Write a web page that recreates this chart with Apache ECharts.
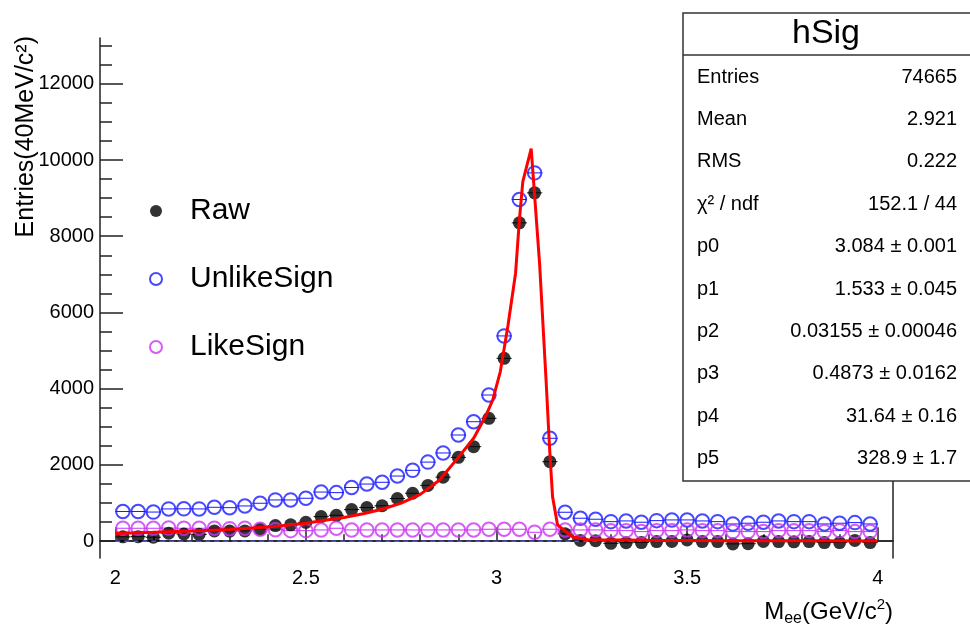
<!DOCTYPE html>
<html>
<head>
<meta charset="utf-8">
<script src="https://cdn.jsdelivr.net/npm/echarts@6/dist/echarts.min.js"></script>
<style>
  html, body { margin: 0; padding: 0; background: #fff; }
  #main { width: 970px; height: 630px; }
</style>
</head>
<body>
<div id="main"></div>
<script>
// bin centres (40 MeV bins)
const massX = [2.02, 2.06, 2.10, 2.14, 2.18, 2.22, 2.26, 2.30, 2.34, 2.38,
  2.42, 2.46, 2.50, 2.54, 2.58, 2.62, 2.66, 2.70, 2.74, 2.78,
  2.82, 2.86, 2.90, 2.94, 2.98, 3.02, 3.06, 3.10, 3.14, 3.18,
  3.22, 3.26, 3.30, 3.34, 3.38, 3.42, 3.46, 3.50, 3.54, 3.58,
  3.62, 3.66, 3.70, 3.74, 3.78, 3.82, 3.86, 3.90, 3.94, 3.98];
const rawY = [115, 120, 105, 210, 190, 180, 270, 265, 270, 314,
  410, 430, 495, 646, 680, 830, 885, 930, 1120, 1258,
  1465, 1680, 2200, 2480, 3224, 4797, 8351, 9138, 2087, 195,
  20, 15, -55, -40, -35, -10, -5, 35, -10, -10,
  -70, -65, -5, -10, -15, -10, -35, -35, 20, -35];
const unlikeY = [780, 780, 765, 847, 850, 847, 890, 880, 925, 996,
  1083, 1083, 1127, 1290, 1275, 1410, 1500, 1546, 1710, 1860,
  2075, 2315, 2786, 3135, 3835, 5385, 8964, 9662, 2700, 760,
  603, 577, 514, 532, 498, 540, 558, 558, 532, 514,
  453, 472, 498, 532, 514, 514, 453, 472, 488, 453];
const likeY = [340, 340, 340, 345, 340, 340, 340, 330, 340, 314,
  300, 278, 278, 296, 340, 296, 296, 296, 296, 296,
  296, 296, 296, 296, 314, 314, 314, 235, 314, 296,
  296, 296, 278, 278, 252, 278, 278, 296, 278, 278,
  252, 252, 252, 278, 278, 278, 252, 278, 252, 252];
// fit curve
const fitX = [2.00, 2.10, 2.20, 2.30, 2.40, 2.50, 2.55, 2.60, 2.65, 2.70,
  2.75, 2.80, 2.85, 2.90, 2.94, 2.97, 2.99, 3.01, 3.03, 3.05,
  3.06, 3.069, 3.091, 3.113, 3.130, 3.139, 3.147, 3.160, 3.182, 3.20,
  3.24, 3.40, 3.60, 3.80, 4.00];
const fitY = [205, 235, 270, 310, 370, 470, 550, 620, 720, 840,
  1000, 1230, 1600, 2200, 2700, 3250, 3700, 4450, 5650, 7030,
  8420, 9430, 10300, 7290, 4230, 2480, 1170, 430, 250, 110,
  40, 25, 15, 10, 5];
const zeroX = [2, 4];
const zeroY = [0, 0];
const halfBin = 0.02;

const xMajor = [2, 2.5, 3, 3.5, 4];
const xMinor = [2.1, 2.2, 2.3, 2.4, 2.6, 2.7, 2.8, 2.9, 3.1, 3.2, 3.3, 3.4, 3.6, 3.7, 3.8, 3.9];
const yMajor = [0, 2000, 4000, 6000, 8000, 10000, 12000];
const yMinor = [500, 1000, 1500, 2500, 3000, 3500, 4500, 5000, 5500, 6500, 7000, 7500,
  8500, 9000, 9500, 10500, 11000, 11500, 12500, 13000];

const statNames = ['Entries', 'Mean', 'RMS', 'χ² / ndf', 'p0', 'p1', 'p2', 'p3', 'p4', 'p5'];
const statValues = ['74665', '2.921', '0.222', '152.1 / 44', '3.084 ± 0.001', '1.533 ± 0.045',
  '0.03155 ± 0.00046', '0.4873 ± 0.0162', '31.64 ± 0.16', '328.9 ± 1.7'];

const FONT = 'Liberation Sans, Arial, sans-serif';
const BLUE = '#1a1aff';
const MAGENTA = '#cc33f2';

function pairs(xs, ys) {
  return xs.map((x, i) => [x, ys[i]]);
}

function errBars(ys, color) {
  return {
    type: 'custom',
    silent: true,
    data: pairs(massX, ys),
    renderItem: function (params, api) {
      const a = api.coord([api.value(0) - halfBin, api.value(1)]);
      const b = api.coord([api.value(0) + halfBin, api.value(1)]);
      return {
        type: 'line',
        shape: { x1: a[0], y1: a[1], x2: b[0], y2: b[1] },
        style: { stroke: color, lineWidth: 1 }
      };
    }
  };
}

function xAxisCfg(extra) {
  return Object.assign({
    type: 'value', min: 1.96, max: 4.04, position: 'bottom',
    axisLine: { show: false },
    axisTick: { show: false },
    axisLabel: { show: false },
    splitLine: { show: false }
  }, extra);
}
function yAxisCfg(extra) {
  return Object.assign({
    type: 'value', min: -440, max: 13200, position: 'left',
    axisLine: { show: false },
    axisTick: { show: false },
    axisLabel: { show: false },
    splitLine: { show: false }
  }, extra);
}

const chart = echarts.init(document.getElementById('main'));

const statRows = [];
statNames.forEach((n, i) => {
  const y = 77 + i * 42.4;
  statRows.push({ type: 'text', x: 697, y: y, z: 101,
    style: { text: n, font: '20px ' + FONT, fill: '#000', textVerticalAlign: 'middle' } });
  statRows.push({ type: 'text', x: 957, y: y, z: 101,
    style: { text: statValues[i], font: '20px ' + FONT, fill: '#000', textAlign: 'right', textVerticalAlign: 'middle' } });
});

chart.setOption({
  animation: false,
  backgroundColor: '#fff',
  grid: { left: 100, right: 77, top: 38, bottom: 72 },
  legend: {
    data: ['Raw', 'UnlikeSign', 'LikeSign'],
    orient: 'vertical',
    left: 144, top: 191,
    itemWidth: 24, itemHeight: 12,
    itemGap: 38,
    textStyle: { fontSize: 30, fontFamily: FONT, color: '#000', padding: [0, 0, 0, 17] }
  },
  xAxis: [
    xAxisCfg({
      axisLine: { show: true, lineStyle: { color: '#222', width: 1.5 } },
      axisTick: { show: true, inside: true, length: 14, customValues: xMajor, lineStyle: { color: '#222', width: 1.5 } },
      axisLabel: { show: true, customValues: xMajor, fontSize: 20, fontFamily: FONT, color: '#000', margin: 10,
        formatter: v => String(v) }
    }),
    xAxisCfg({
      axisTick: { show: true, inside: true, length: 7, customValues: xMinor, lineStyle: { color: '#222', width: 1.5 } }
    }),
    xAxisCfg({
      position: 'top',
      axisLine: { show: true, lineStyle: { color: '#222', width: 1.5 } }
    })
  ],
  yAxis: [
    yAxisCfg({
      axisLine: { show: true, lineStyle: { color: '#222', width: 1.5 } },
      axisTick: { show: true, inside: true, length: 23, customValues: yMajor, lineStyle: { color: '#222', width: 1.5 } },
      axisLabel: { show: true, customValues: yMajor, fontSize: 20, fontFamily: FONT, color: '#000', margin: 6,
        formatter: v => String(v) }
    }),
    yAxisCfg({
      axisTick: { show: true, inside: true, length: 12, customValues: yMinor, lineStyle: { color: '#222', width: 1.5 } }
    }),
    yAxisCfg({
      position: 'right',
      axisLine: { show: true, lineStyle: { color: '#222', width: 1.5 } }
    })
  ],
  series: [
    {
      name: 'zero', type: 'line', data: pairs(zeroX, zeroY), symbol: 'none', silent: true,
      lineStyle: { color: '#4d4dff', width: 1.5, type: [5, 4] }
    },
    errBars(rawY, '#222'),
    errBars(unlikeY, BLUE),
    errBars(likeY, MAGENTA),
    {
      name: 'Raw', type: 'scatter', data: pairs(massX, rawY), symbol: 'circle', symbolSize: 13,
      itemStyle: { color: '#000' }
    },
    {
      name: 'UnlikeSign', type: 'scatter', data: pairs(massX, unlikeY), symbol: 'circle', symbolSize: 13.5,
      itemStyle: { color: 'rgba(255,255,255,0)', borderColor: BLUE, borderWidth: 2 }
    },
    {
      name: 'LikeSign', type: 'scatter', data: pairs(massX, likeY), symbol: 'circle', symbolSize: 13.5,
      itemStyle: { color: 'rgba(255,255,255,0)', borderColor: MAGENTA, borderWidth: 2 }
    },
    {
      name: 'fit', type: 'line', data: pairs(fitX, fitY), symbol: 'none', silent: true, z: 5,
      lineStyle: { color: '#ff0000', width: 3 }
    }
  ],
  graphic: [
    {
      type: 'text', x: 26, y: 36, rotation: Math.PI / 2,
      style: { text: 'Entries(40MeV/c²)', font: '25px ' + FONT, fill: '#000', textAlign: 'right', textVerticalAlign: 'middle' }
    },
    {
      type: 'text', x: 893, y: 612,
      style: {
        text: '{m|M}{s|ee}{m|(GeV/c}{p|2}{m|)}',
        textAlign: 'right', textVerticalAlign: 'middle',
        rich: {
          m: { fontSize: 24, fontFamily: FONT, color: '#000', lineHeight: 30 },
          s: { fontSize: 16, fontFamily: FONT, color: '#000', lineHeight: 16, verticalAlign: 'bottom' },
          p: { fontSize: 15, fontFamily: FONT, color: '#000', lineHeight: 15, verticalAlign: 'top' }
        }
      }
    },
    {
      type: 'group', z: 100,
      children: [
        { type: 'rect', shape: { x: 683, y: 13, width: 300, height: 468 },
          style: { fill: '#fff', stroke: '#333', lineWidth: 1.5 }, z: 100 },
        { type: 'line', shape: { x1: 683, y1: 55, x2: 970, y2: 55 },
          style: { stroke: '#333', lineWidth: 1.5 }, z: 101 },
        { type: 'text', x: 826, y: 34, z: 101,
          style: { text: 'hSig', font: '34px ' + FONT, fill: '#000', textAlign: 'center', textVerticalAlign: 'middle' } }
      ].concat(statRows)
    }
  ]
});
</script>
</body>
</html>
